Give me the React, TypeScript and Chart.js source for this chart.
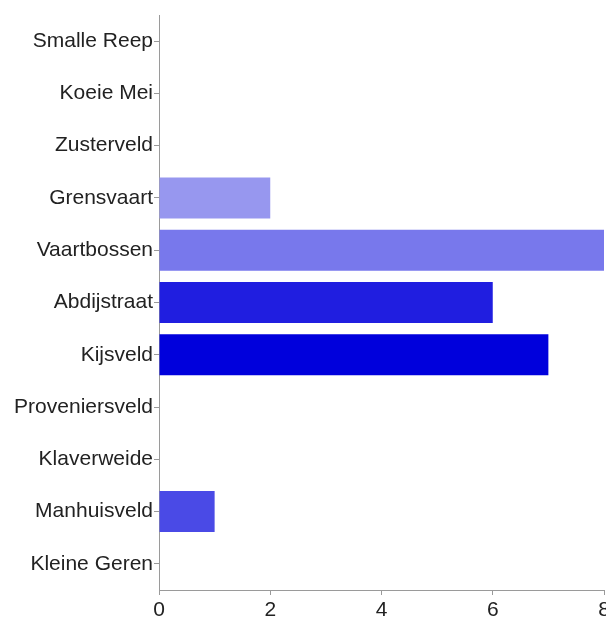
import React, { useEffect, useRef } from "react";
import { Chart, registerables } from "chart.js";

Chart.register(...registerables);

const categories = [
  "Smalle Reep",
  "Koeie Mei",
  "Zusterveld",
  "Grensvaart",
  "Vaartbossen",
  "Abdijstraat",
  "Kijsveld",
  "Proveniersveld",
  "Klaverweide",
  "Manhuisveld",
  "Kleine Geren",
];
const values = [0, 0, 0, 2, 8, 6, 7, 0, 0, 1, 0];
const barColors = [
  "#b0b0f4",
  "#a0a0f0",
  "#9c9cf0",
  "#9797ef",
  "#7878ec",
  "#201ee0",
  "#0000dc",
  "#3030e0",
  "#4040e4",
  "#4a4ae6",
  "#5a5ae8",
];
const xTicks = [0, 2, 4, 6, 8];

export default function App() {
  const ref = useRef<HTMLCanvasElement | null>(null);
  useEffect(() => {
    document.body.style.margin = "0";
    const ctx = ref.current!;
    const chart = new Chart(ctx, {
      type: "bar",
      data: {
        labels: categories,
        datasets: [
          {
            data: values,
            backgroundColor: barColors,
            borderWidth: 0,
            barPercentage: 0.785,
            categoryPercentage: 1,
          },
        ],
      },
      options: {
        indexAxis: "y",
        animation: false,
        responsive: false,
        devicePixelRatio: 1,
        layout: { padding: { top: 15, right: 2, left: 0, bottom: 0 } },
        plugins: { legend: { display: false }, tooltip: { enabled: false } },
        scales: {
          x: {
            min: 0,
            max: 8,
            afterBuildTicks: (s: any) => {
              s.ticks = xTicks.map((v) => ({ value: v }));
            },
            afterFit: (s: any) => {
              s.height = 31;
              s.paddingRight = 0;
              s.paddingLeft = 0;
            },
            grid: {
              drawOnChartArea: false,
              tickLength: 5,
              color: "#9a9a9a",
            },
            border: { color: "#9a9a9a", width: 1 },
            ticks: {
              color: "#222",
              padding: 3,
              maxRotation: 0,
              font: { family: "Liberation Sans", size: 21 },
            },
          },
          y: {
            afterFit: (s: any) => {
              s.width = 159;
              s.paddingTop = 0;
              s.paddingBottom = 0;
            },
            grid: {
              drawOnChartArea: false,
              tickLength: 5,
              color: "#9a9a9a",
              offset: false,
            },
            border: { color: "#9a9a9a", width: 1 },
            ticks: {
              color: "#222",
              padding: 1,
              font: { family: "Liberation Sans", size: 21 },
            },
          },
        },
      },
    });
    return () => chart.destroy();
  }, []);
  return <canvas ref={ref} width={606} height={621} style={{ display: "block" }} />;
}
